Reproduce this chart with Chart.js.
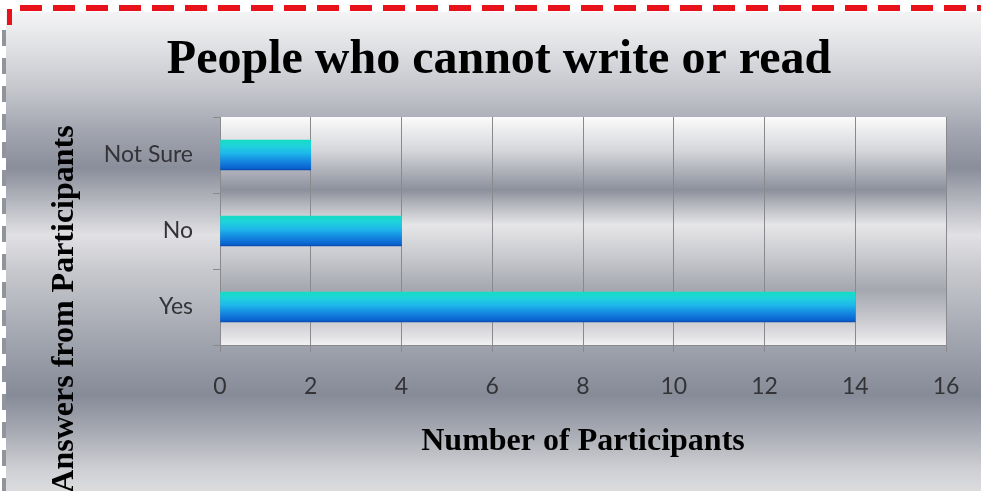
<!DOCTYPE html>
<html><head><meta charset="utf-8">
<script src="https://cdn.jsdelivr.net/npm/chart.js@4.4.0/dist/chart.umd.min.js"></script>
<style>html,body{margin:0;padding:0;background:#fff;overflow:hidden}#wrap{width:981px;height:491px}</style>
</head><body><div id="wrap"><canvas id="c" width="981" height="491"></canvas></div>
<script>
const chartTitle = 'People who cannot write or read';
const xAxisTitle = 'Number of Participants';
const yAxisTitle = 'Answers from Participants';
const categories = ['Not Sure', 'No', 'Yes'];
const participants = [2, 4, 14];
const xTicks = [0, 2, 4, 6, 8, 10, 12, 14, 16];

const BAR_THICK = 30;
const W = 981, H = 491;

function addStops(g, stops) { stops.forEach(s => g.addColorStop(s[0], s[1])); return g; }

const bgPlugin = {
  id: 'bg',
  beforeDraw(chart) {
    const { ctx, chartArea: a } = chart;
    ctx.save();
    ctx.fillStyle = '#ffffff';
    ctx.fillRect(0, 0, W, H);
    const y0 = 12, y1 = H;
    const f = y => (y - y0) / (y1 - y0);
    let g = ctx.createLinearGradient(0, y0, 0, y1);
    addStops(g, [[0, '#f4f4f6'], [f(40), '#e4e5e8'], [f(90), '#c4c6cc'], [f(130), '#a3a6b0'], [f(168), '#8a8e9b'],
      [f(200), '#b3b5bd'], [f(235), '#e1e1e4'], [f(270), '#c8c9ce'], [f(330), '#a7aab3'], [f(395), '#868b98'],
      [f(430), '#a6a9b2'], [f(470), '#cfd0d4'], [1, '#dcdcdf']]);
    ctx.fillStyle = g;
    ctx.fillRect(6, y0, W - 6, y1 - y0);
    // plot area
    const h = a.bottom - a.top;
    const p = y => (y - a.top) / h;
    g = ctx.createLinearGradient(0, a.top, 0, a.bottom);
    addStops(g, [[0, '#fbfbfb'], [p(150), '#d6d7db'], [p(190), '#8c909c'], [p(205), '#b5b7be'], [p(225), '#e6e6e8'],
      [p(260), '#c5c6cb'], [p(290), '#a4a7af'], [p(320), '#c9cacf'], [p(340), '#e8e8ea'], [1, '#f2f2f2']]);
    ctx.fillStyle = g;
    ctx.fillRect(a.left, a.top, a.right - a.left, h);
    // red dashed top border
    ctx.strokeStyle = '#e8121a';
    ctx.lineWidth = 6;
    ctx.setLineDash([22, 11]);
    ctx.beginPath(); ctx.moveTo(20, 8); ctx.lineTo(W, 8); ctx.stroke();
    ctx.setLineDash([]);
    ctx.fillStyle = '#e8121a';
    ctx.fillRect(7, 9, 5, 16);
    // gray dashed left border
    ctx.strokeStyle = 'rgba(110,112,122,0.75)';
    ctx.lineWidth = 4;
    ctx.setLineDash([16, 12]);
    ctx.beginPath(); ctx.moveTo(4, 30); ctx.lineTo(4, H); ctx.stroke();
    ctx.restore();
  },
  afterDraw(chart) {
    const { ctx } = chart;
    ctx.save();
    ctx.fillStyle = '#000000';
    ctx.textAlign = 'center';
    ctx.textBaseline = 'alphabetic';
    ctx.font = 'bold 48px "Liberation Serif", "Times New Roman", serif';
    ctx.fillText(chartTitle, 499, 73);
    ctx.font = 'bold 32px "Liberation Serif", "Times New Roman", serif';
    ctx.fillText(xAxisTitle, 583, 450);
    ctx.translate(73, 309);
    ctx.rotate(-Math.PI / 2);
    ctx.fillText(yAxisTitle, 0, 0);
    ctx.restore();
  }
};

function barGradient(context) {
  const chart = context.chart;
  const ys = chart.scales && chart.scales.y;
  if (!ys || context.dataIndex === undefined || !chart.chartArea) return '#1a9ae0';
  const c = ys.getPixelForValue(context.dataIndex);
  const h = BAR_THICK / 2;
  const g = chart.ctx.createLinearGradient(0, c - h, 0, c + h);
  return addStops(g, [[0, '#14dcc4'], [0.2, '#1fd3dc'], [0.45, '#1db6ea'], [0.7, '#1488e0'], [0.94, '#0a62d0'], [1, '#0a4aa8']]);
}

new Chart(document.getElementById('c'), {
  type: 'bar',
  data: {
    labels: categories,
    datasets: [{
      data: participants,
      backgroundColor: barGradient,
      borderWidth: 0,
      barThickness: BAR_THICK
    }]
  },
  options: {
    indexAxis: 'y',
    responsive: false,
    animation: false,
    events: [],
    layout: { padding: { top: 117, right: 35, bottom: 0, left: 0 } },
    plugins: { legend: { display: false }, tooltip: { enabled: false }, title: { display: false } },
    scales: {
      x: {
        min: xTicks[0],
        max: xTicks[xTicks.length - 1],
        afterFit(s) { s.height = 146; },
        ticks: {
          stepSize: xTicks[1] - xTicks[0],
          padding: 21,
          color: '#333338',
          font: { family: 'Lato, "Open Sans", sans-serif', size: 23 }
        },
        grid: { color: '#8a8a8e', lineWidth: 1, tickLength: 7, drawTicks: true },
        border: { display: true, color: '#8a8a8e', width: 1 }
      },
      y: {
        afterFit(s) { s.width = 220; },
        ticks: {
          padding: 20,
          color: '#333338',
          font: { family: 'Lato, "Open Sans", sans-serif', size: 23 }
        },
        grid: { drawOnChartArea: false, offset: true, color: '#8a8a8e', tickLength: 7, drawTicks: true },
        border: { display: true, color: '#8a8a8e', width: 1 }
      }
    }
  },
  plugins: [bgPlugin]
});
</script>
</body></html>
